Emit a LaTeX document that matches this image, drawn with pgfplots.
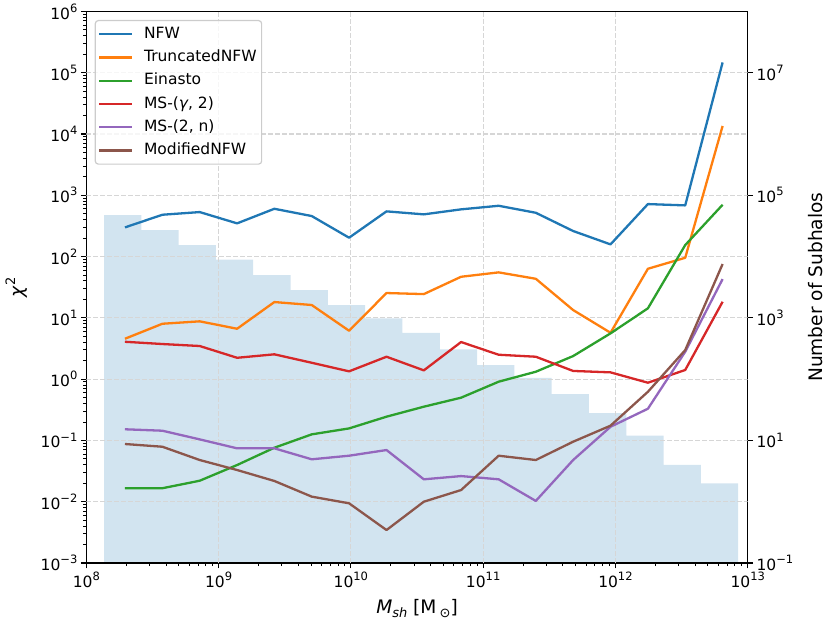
\documentclass[border=0pt]{standalone}
\usepackage{pgfplots}
\pgfplotsset{compat=1.18}
\usepackage{fontspec}
\setmainfont{DejaVu Sans}
\definecolor{c0}{HTML}{1F77B4}
\definecolor{c1}{HTML}{FF7F0E}
\definecolor{c2}{HTML}{2CA02C}
\definecolor{c3}{HTML}{D62728}
\definecolor{c4}{HTML}{9467BD}
\definecolor{c5}{HTML}{8C564B}
\definecolor{histblue}{RGB}{210,228,240}
\definecolor{gridgray}{RGB}{214,214,214}
\definecolor{legendgray}{RGB}{204,204,204}
\newcommand{\tkfont}{\fontsize{15.5bp}{18bp}\selectfont}
\newcommand{\lbfont}{\fontsize{18.6bp}{22bp}\selectfont}
\newcommand{\tk}[1]{10\raisebox{0.45em}{\fontsize{11.5bp}{12bp}\selectfont #1}}
\tikzset{gl/.style={gridgray, dash pattern=on 4.6bp off 2.4bp, line width=1.1bp}}

\pgfplotstableread{
x NFW TNFW Ein MSg MSn MNFW
1.96e8  299   4.56  0.0166 4.07  0.152  0.0874
3.76e8  481   8.01  0.0166 3.74  0.144  0.0789
7.20e8  532   8.77  0.0220 3.47  0.104  0.0479
1.38e9  348   6.64  0.0397 2.23  0.0743 0.0329
2.64e9  602   18.1  0.0760 2.54  0.0743 0.0218
5.06e9  458   16.2  0.1256 1.85  0.0492 0.0121
9.69e9  203   6.16  0.157  1.34  0.0563 0.00942
1.86e10 546   25.4  0.244  2.32  0.0697 0.00345
3.56e10 488   24.4  0.355  1.39  0.0232 0.0100
6.81e10 589   46.8  0.498  4.03  0.0262 0.0155
1.31e11 674   55.2  0.908  2.50  0.0232 0.0563
2.50e11 518   43.4  1.32   2.32  0.0103 0.0479
4.79e11 261   13.4  2.38   1.36  0.0479 0.0953
9.18e11 158   5.71  5.58   1.29  0.167  0.174
1.76e12 718   63.2  14.3   0.874 0.329  0.622
3.37e12 684   95.5  154    1.41  2.80   2.98
6.46e12 147000 13500 700   18.3  42.9   75.5
}\chisq

\begin{document}
\begin{tikzpicture}
% ---- histogram on the right axis ----
\begin{axis}[
  scale only axis, width=661.4bp, height=551.6bp,
  xmode=log, ymode=log,
  xmin=1e8, xmax=1e13, ymin=1e-1, ymax=1e8,
  axis x line=none,
  axis y line*=right,
  ytick={1e-1,1e1,1e3,1e5,1e7},
  yticklabels={\tk{−1},\tk{1},\tk{3},\tk{5},\tk{7}},
  minor ytick={},
  tick align=outside,
  major tick length=5.4bp,
  tick style={black, line width=1.2bp},
  axis line style={line width=1.2bp},
  yticklabel style={font=\tkfont},
  ylabel={Number of Subhalos},
  ylabel style={font=\lbfont, at={(axis description cs:1.1025,0.5)}, anchor=center},
]
\addplot[fill=histblue, draw=none] coordinates {
(1.361e8,0.1) (1.361e8,47500) (2.606e8,47500) (2.606e8,27000) (4.989e8,27000)
(4.989e8,15400) (9.550e8,15400) (9.550e8,8870) (1.828e9,8870) (1.828e9,4990)
(3.499e9,4990) (3.499e9,2840) (6.699e9,2840) (6.699e9,1620) (1.282e10,1620)
(1.282e10,982) (2.455e10,982) (2.455e10,571) (4.699e10,571) (4.699e10,306)
(8.995e10,306) (8.995e10,170) (1.722e11,170) (1.722e11,105) (3.296e11,105)
(3.296e11,57) (6.310e11,57) (6.310e11,28) (1.208e12,28) (1.208e12,12)
(2.312e12,12) (2.312e12,4) (4.426e12,4) (4.426e12,2) (8.472e12,2) (8.472e12,0.1)
};
\end{axis}
% ---- chi^2 curves on the left axis ----
\begin{axis}[
  scale only axis, width=661.4bp, height=551.6bp,
  xmode=log, ymode=log,
  xmin=1e8, xmax=1e13, ymin=1e-3, ymax=1e6,
  tick pos=left, tick align=outside,
  xtick={1e8,1e9,1e10,1e11,1e12,1e13},
  xticklabels={\tk{8},\tk{9},\tk{10},\tk{11},\tk{12},\tk{13}},
  ytick={1e-3,1e-2,1e-1,1,1e1,1e2,1e3,1e4,1e5,1e6},
  yticklabels={\tk{−3},\tk{−2},\tk{−1},\tk{0},\tk{1},\tk{2},\tk{3},\tk{4},\tk{5},\tk{6}},
  minor xtick={2e8,3e8,4e8,5e8,6e8,7e8,8e8,9e8,
               2e9,3e9,4e9,5e9,6e9,7e9,8e9,9e9,
               2e10,3e10,4e10,5e10,6e10,7e10,8e10,9e10,
               2e11,3e11,4e11,5e11,6e11,7e11,8e11,9e11,
               2e12,3e12,4e12,5e12,6e12,7e12,8e12,9e12},
  minor ytick={2e-3,3e-3,4e-3,5e-3,6e-3,7e-3,8e-3,9e-3,
               2e-2,3e-2,4e-2,5e-2,6e-2,7e-2,8e-2,9e-2,
               0.2,0.3,0.4,0.5,0.6,0.7,0.8,0.9,
               2,3,4,5,6,7,8,9,
               20,30,40,50,60,70,80,90,
               200,300,400,500,600,700,800,900,
               2e3,3e3,4e3,5e3,6e3,7e3,8e3,9e3,
               2e4,3e4,4e4,5e4,6e4,7e4,8e4,9e4,
               2e5,3e5,4e5,5e5,6e5,7e5,8e5,9e5},
  major tick length=5.4bp, minor tick length=3.1bp,
  tick style={black, line width=1.2bp},
  minor tick style={line width=0.9bp},
  axis line style={line width=1.2bp},
  ticklabel style={font=\tkfont},
  xlabel={\textit{M}\raisebox{-0.22em}{\fontsize{13bp}{14bp}\selectfont\textit{sh}} [M\,\raisebox{-0.25em}{\fontsize{13bp}{14bp}\selectfont ⊙}]},
  xlabel style={font=\lbfont, at={(axis description cs:0.5,0)}, yshift=-50bp, anchor=base},
  ylabel={\textit{χ}\raisebox{0.45em}{\fontsize{13bp}{14bp}\selectfont 2}},
  ylabel style={font=\lbfont, at={(axis description cs:-0.1058,0.5)}, anchor=center},
  every axis plot/.append style={line width=2.3bp, line join=round},
  legend cell align=left,
  legend image code/.code={\draw[#1, line width=2.3bp] (0bp,0bp) -- (33bp,0bp);},
  legend style={at={(axis description cs:0.0127,0.9844)}, anchor=north west,
    draw=legendgray, line width=1.2bp, rounded corners=3bp,
    fill=white, fill opacity=0.8, text opacity=1,
    inner xsep=3bp, inner ysep=4bp, row sep=4.3bp, column sep=8.5bp,
    nodes={inner sep=2bp, text height=11.5bp, text depth=3.5bp},
    font=\tkfont},
]
% grid lines, one path each
\draw[gl] (axis cs:1e9,1e-3)  -- (axis cs:1e9,1e6);
\draw[gl] (axis cs:1e10,1e-3) -- (axis cs:1e10,1e6);
\draw[gl] (axis cs:1e11,1e-3) -- (axis cs:1e11,1e6);
\draw[gl] (axis cs:1e12,1e-3) -- (axis cs:1e12,1e6);
\draw[gl] (axis cs:1e8,1e-2) -- (axis cs:1e13,1e-2);
\draw[gl] (axis cs:1e8,1e-1) -- (axis cs:1e13,1e-1);
\draw[gl] (axis cs:1e8,1)    -- (axis cs:1e13,1);
\draw[gl] (axis cs:1e8,1e1)  -- (axis cs:1e13,1e1);
\draw[gl] (axis cs:1e8,1e2)  -- (axis cs:1e13,1e2);
\draw[gl] (axis cs:1e8,1e3)  -- (axis cs:1e13,1e3);
\draw[gl] (axis cs:1e8,1e4)  -- (axis cs:1e10,1e4);
\draw[gl] (axis cs:1e10,1e4) -- (axis cs:1e11,1e4);
\draw[gl] (axis cs:1e11,1e4) -- (axis cs:1e12,1e4);
\draw[gl] (axis cs:1e12,1e4) -- (axis cs:1e13,1e4);
\draw[gl] (axis cs:1e8,1e5)  -- (axis cs:1e13,1e5);
\addplot[c0] table[x=x, y=NFW] {\chisq};
\addlegendentry{NFW}
\addplot[c1] table[x=x, y=TNFW] {\chisq};
\addlegendentry{TruncatedNFW}
\addplot[c2] table[x=x, y=Ein] {\chisq};
\addlegendentry{Einasto}
\addplot[c3] table[x=x, y=MSg] {\chisq};
\addlegendentry{MS-(\textit{γ}, 2)}
\addplot[c4] table[x=x, y=MSn] {\chisq};
\addlegendentry{MS-(2, n)}
\addplot[c5] table[x=x, y=MNFW] {\chisq};
\addlegendentry{ModifiedNFW}
\end{axis}
\pgfresetboundingbox
\path[use as bounding box] (-86.3bp,-60bp) rectangle (743.7bp,563bp);
\end{tikzpicture}
\end{document}
